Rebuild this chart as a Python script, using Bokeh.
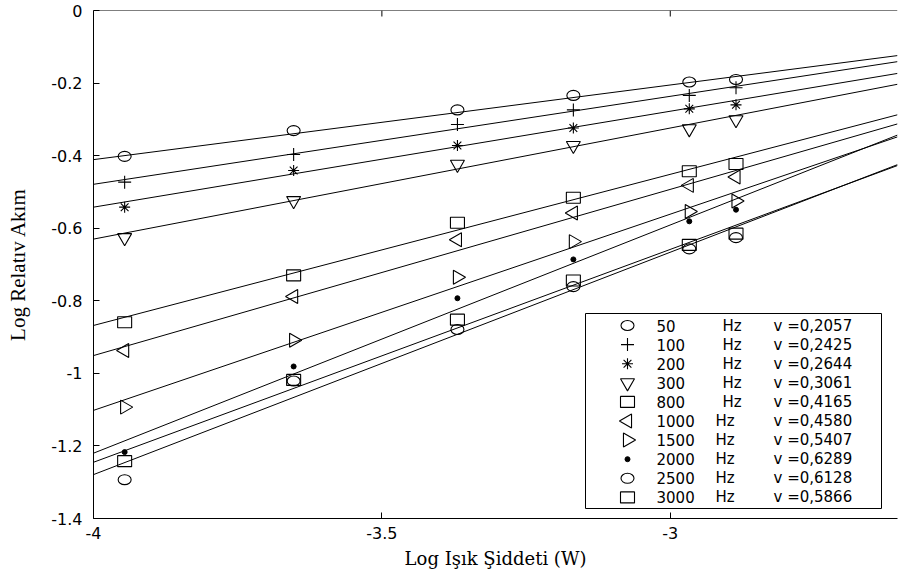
import numpy as np
from bokeh.plotting import figure
from bokeh.models import Range1d, FixedTicker, Span
from bokeh.core.properties import value
from bokeh.embed import file_html
from bokeh.resources import INLINE

# ---------------- data ----------------
log_intensity = [-3.946, -3.653, -3.369, -3.168, -2.967, -2.886]

freq_labels = ["50", "100", "200", "300", "800", "1000", "1500", "2000", "2500", "3000"]
slope_v = [0.2057, 0.2425, 0.2644, 0.3061, 0.4165, 0.4580, 0.5407, 0.6289, 0.6128, 0.5866]
slope_text = ["0,2057", "0,2425", "0,2644", "0,3061", "0,4165", "0,4580", "0,5407", "0,6289", "0,6128", "0,5866"]
# fitted line value at log intensity = -4 (left edge)
line_at_left = [-0.411, -0.479, -0.542, -0.630, -0.868, -0.951, -1.102, -1.220, -1.279, -1.245]

y_50 = [-0.402, -0.331, -0.274, -0.234, -0.197, -0.190]
y_100 = [-0.473, -0.397, -0.314, -0.274, -0.234, -0.213]
y_200 = [-0.542, -0.441, -0.372, -0.324, -0.271, -0.260]
y_300 = [-0.626, -0.524, -0.424, -0.372, -0.326, -0.301]
y_800 = [-0.859, -0.730, -0.585, -0.516, -0.443, -0.423]
y_1000 = [-0.937, -0.788, -0.632, -0.558, -0.482, -0.459]
y_1500 = [-1.093, -0.909, -0.735, -0.637, -0.554, -0.525]
y_2000 = [-1.217, -0.981, -0.793, -0.686, -0.581, -0.549]
y_2500 = [-1.293, -1.021, -0.879, -0.761, -0.657, -0.626]
y_3000 = [-1.242, -1.018, -0.852, -0.744, -0.646, -0.615]
series_y = [y_50, y_100, y_200, y_300, y_800, y_1000, y_1500, y_2000, y_2500, y_3000]

x_ticks = [-4, -3.5, -3]
x_tick_labels = ["-4", "-3.5", "-3"]
y_ticks = [0, -0.2, -0.4, -0.6, -0.8, -1.0, -1.2, -1.4]
y_tick_labels = ["0", "-0.2", "-0.4", "-0.6", "-0.8", "-1", "-1.2", "-1.4"]

marker_kind = ["ellipse", "cross", "asterisk", "inverted_triangle", "rect",
               "tri_left", "tri_right", "dot", "ellipse", "rect"]

# ---------------- layout ----------------
W, H = 898, 572
FL, FR, FT, FB = 93, 897, 10, 518
X0, X1 = -4.0, -2.606
Y0, Y1 = -1.4, 0.0
TICK_LEN = 6

def dx(px):
    return X0 + (px - FL) / (FR - FL) * (X1 - X0)

def dy(py):
    return Y1 - (py - FT) / (FB - FT) * (Y1 - Y0)

p = figure(width=W, height=H, output_backend="svg", toolbar_location=None,
           x_range=Range1d(X0, X1), y_range=Range1d(Y0, Y1),
           min_border_left=FL, min_border_right=W - FR, min_border_top=FT,
           min_border_bottom=H - FB)
p.background_fill_color = "white"
p.border_fill_color = "white"
p.outline_line_color = None
p.grid.visible = False

TICK_FONT = "DejaVu Sans"
LABEL_FONT = "DejaVu Serif"

def style_axis(ax, ticks, labels):
    ax.ticker = FixedTicker(ticks=ticks)
    ax.minor_tick_line_color = None
    ax.major_tick_in = TICK_LEN
    ax.major_tick_out = 0
    ax.axis_line_color = "black"
    ax.axis_line_width = 1
    ax.major_tick_line_color = "black"
    ax.major_label_overrides = {t: l for t, l in zip(ticks, labels)}
    ax.major_label_text_font = TICK_FONT
    ax.major_label_text_font_size = "16px"
    ax.major_label_text_color = "black"
    ax.axis_label_text_color = "black"
    ax.axis_label_text_font_style = "normal"

xa = p.xaxis[0]
style_axis(xa, x_ticks, x_tick_labels)
xa.major_label_standoff = 8
xa.axis_label = "Log Işık Şiddeti (W)"
xa.axis_label_text_font = LABEL_FONT
xa.axis_label_text_font_size = "18px"
xa.axis_label_standoff = 6

ya = p.yaxis[0]
style_axis(ya, y_ticks, y_tick_labels)
ya.major_label_standoff = 11
ya.axis_label = "Log Relatıv Akım"
ya.axis_label_text_font = "Liberation Serif"
ya.axis_label_text_font_size = "21px"
ya.axis_label_standoff = 18

# top frame line with inward ticks
p.add_layout(Span(location=Y1, dimension="width", line_color="black", line_width=1))
p.segment(x0=x_ticks, y0=[Y1] * len(x_ticks), x1=x_ticks,
          y1=[dy(FT + TICK_LEN)] * len(x_ticks), line_color="black", line_width=1)

# ---------------- fitted lines ----------------
for b, v in zip(line_at_left, slope_v):
    xs = [X0, X1]
    ys = [b + v * (x - X0) for x in xs]
    p.line(xs, ys, line_color="black", line_width=1)

# ---------------- markers ----------------
def draw_marker(kind, xs, ys):
    common = dict(line_color="black", line_width=1.1)
    if kind == "ellipse":
        p.ellipse(xs, ys, width=13, height=10, width_units="screen",
                  height_units="screen", fill_color="white", fill_alpha=0, **common)
    elif kind == "rect":
        p.rect(xs, ys, width=14, height=11, width_units="screen",
               height_units="screen", fill_color=None, **common)
    elif kind == "cross":
        p.scatter(xs, ys, marker="cross", size=13, **common)
    elif kind == "asterisk":
        p.scatter(xs, ys, marker="asterisk", size=11, **common)
    elif kind == "inverted_triangle":
        p.scatter(xs, ys, marker="inverted_triangle", size=14, fill_color=None, **common)
    elif kind == "tri_left":
        p.scatter(xs, ys, marker="triangle", size=14, angle=np.pi / 2,
                  fill_color=None, **common)
    elif kind == "tri_right":
        p.scatter(xs, ys, marker="triangle", size=14, angle=-np.pi / 2,
                  fill_color=None, **common)
    elif kind == "dot":
        p.scatter(xs, ys, marker="circle", size=5, fill_color="black", line_color="black")

for kind, ys in zip(marker_kind, series_y):
    draw_marker(kind, log_intensity, ys)

# ---------------- legend ----------------
p.quad(left=[dx(585)], right=[dx(881)], top=[dy(313)], bottom=[dy(508)],
       fill_color="white", line_color="black", line_width=1)

row_px = [325 + i * 19.1 for i in range(len(freq_labels))]
for kind, py in zip(marker_kind, row_px):
    draw_marker(kind, [dx(627)], [dy(py)])

leg_font = dict(text_font=value(TICK_FONT), text_font_size="15px",
                text_color="black", text_baseline="middle", text_align="left")
p.text(x=[dx(656)] * len(freq_labels), y=[dy(py) for py in row_px],
       text=freq_labels, **leg_font)
p.text(x=[dx(722) if len(f) < 4 else dx(715) for f in freq_labels],
       y=[dy(py) for py in row_px], text=["Hz"] * len(freq_labels), **leg_font)
p.text(x=[dx(773)] * len(freq_labels), y=[dy(py) for py in row_px],
       text=["v =" + s for s in slope_text], **leg_font)

open("out.html", "w").write(file_html(p, INLINE))
